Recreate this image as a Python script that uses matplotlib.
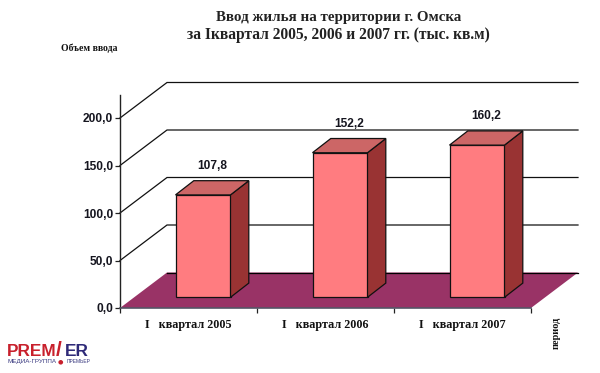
import matplotlib
matplotlib.use("Agg")
import matplotlib.pyplot as plt
from matplotlib.patches import Polygon

categories = ["I   квартал 2005", "I   квартал 2006", "I   квартал 2007"]
values = [107.8, 152.2, 160.2]
value_labels = ["107,8", "152,2", "160,2"]
y_ticks = [0, 50, 100, 150, 200]
y_tick_labels = ["0,0", "50,0", "100,0", "150,0", "200,0"]

W, H = 600, 373
AX_L, AX_R, AX_B, AX_T = 120, 578, 308, 95
PX_X = 137.0   # px per category
PX_Y = 0.95    # px per value unit
FRONT = "#FF7C80"; SIDE = "#993333"; TOP = "#CC6666"; FLOOR = "#993366"
SERIF = "Liberation Serif"; SANS = "Liberation Sans"

fig = plt.figure(figsize=(6, 3.73), dpi=100, facecolor="white")
ax = fig.add_axes([AX_L / W, 1 - AX_B / H, (AX_R - AX_L) / W, (AX_B - AX_T) / H])
ax.set_xlim(0, (AX_R - AX_L) / PX_X)
ax.set_ylim(0, (AX_B - AX_T) / PX_Y)
ax.patch.set_alpha(0)

dx_w, dy_w = 47 / PX_X, 35.5 / PX_Y      # wall depth
dx_b, dy_b = 18.3 / PX_X, 14.2 / PX_Y    # bar depth
bar_w = 55 / PX_X
bar_x0 = 55.5 / PX_X
bar_y0 = 10.7 / PX_Y

# floor
ax.add_patch(Polygon([(0, 0), (3, 0), (3 + dx_w, dy_w), (dx_w, dy_w)],
                     closed=True, fc=FLOOR, ec="none", zorder=1, clip_on=False))
ax.plot([dx_w, 3 + dx_w], [dy_w, dy_w], color="black", lw=0.9, zorder=2, clip_on=False)

# gridlines on side + back walls
for v in y_ticks[1:]:
    ax.plot([0, dx_w, 3 + dx_w], [v, v + dy_w, v + dy_w], color="#111111", lw=0.9,
            zorder=2, solid_joinstyle="miter", clip_on=False)

# bars
for i, v in enumerate(values):
    x0 = i + bar_x0
    x1 = x0 + bar_w
    y0, y1 = bar_y0, bar_y0 + v
    kw = dict(closed=True, ec="#111111", lw=0.9, zorder=4, joinstyle="miter")
    ax.add_patch(Polygon([(x0, y0), (x1, y0), (x1, y1), (x0, y1)], fc=FRONT, **kw))
    ax.add_patch(Polygon([(x1, y0), (x1 + dx_b, y0 + dy_b), (x1 + dx_b, y1 + dy_b), (x1, y1)], fc=SIDE, **kw))
    ax.add_patch(Polygon([(x0, y1), (x1, y1), (x1 + dx_b, y1 + dy_b), (x0 + dx_b, y1 + dy_b)], fc=TOP, **kw))
    ax.text(x0 + bar_w / 2 + 9 / PX_X, y1 + dy_b + 9 / PX_Y, value_labels[i], ha="center", va="bottom",
            fontsize=8.6, fontweight="bold", family=SANS, color="#15151f", zorder=5)

# spines, ticks
for s in ("top", "right"):
    ax.spines[s].set_visible(False)
ax.spines["left"].set_color("#222222")
ax.spines["left"].set_linewidth(1.0)
ax.spines["bottom"].set_color("#555566")
ax.spines["bottom"].set_linewidth(1.2)
ax.spines["bottom"].set_bounds(0, 3)
ax.spines["bottom"].set_zorder(3)
ax.set_yticks(y_ticks, y_tick_labels, fontsize=8.6, fontweight="bold", family=SANS, color="#15151f")
ax.tick_params(axis="y", length=3.5, width=0.9, pad=1.5, color="#222222")
ax.set_xticks([0, 1, 2, 3], [])
ax.tick_params(axis="x", which="major", length=3.5, width=0.9, color="#222222")
ax.set_xticks([0.5, 1.5, 2.5], categories, minor=True, fontsize=8.7, fontweight="bold", family=SERIF, color="#111111")
ax.tick_params(axis="x", which="minor", length=0, pad=8)

# texts in pixel positions
def T(x, y, s, **kw):
    return fig.text(x / W, 1 - y / H, s, **kw)

T(339, 17, "Ввод жилья на территории г. Омска", ha="center", va="center",
  fontsize=10.8, fontweight="bold", family=SERIF, color="#222222")
T(338, 35, "за Iквартал 2005, 2006 и 2007 гг. (тыс. кв.м)", ha="center", va="center",
  fontsize=11.2, fontweight="bold", family=SERIF, color="#222222")
T(89.5, 48, "Объем ввода", ha="center", va="center", fontsize=7.0, fontweight="bold", family=SERIF, color="#111111")
T(556, 333, "период", ha="center", va="center", rotation=90, fontsize=7.4, fontweight="bold", family=SERIF, color="#111111")

# logo
T(7, 351.5, "PREM", ha="left", va="center", fontsize=12.4, fontweight="bold", family=SANS, color="#C8202C")
T(56, 351, "/", ha="left", va="center", fontsize=15, fontweight="bold", family=SANS, color="#C8202C")
T(65, 351.5, "ER", ha="left", va="center", fontsize=12.4, fontweight="bold", family=SANS, color="#2E2A78")
T(7, 361.5, "МЕДИА-ГРУППА", ha="left", va="center", fontsize=4.5, family=SANS, color="#3A3A80")
T(60, 361.5, "●", ha="center", va="center", fontsize=4.5, family="DejaVu Sans", color="#C8202C")
T(67, 361.5, "ПРЕМЬЕР", ha="left", va="center", fontsize=3.6, family=SANS, color="#3A3A80")

fig.savefig("out.png", dpi=100)
